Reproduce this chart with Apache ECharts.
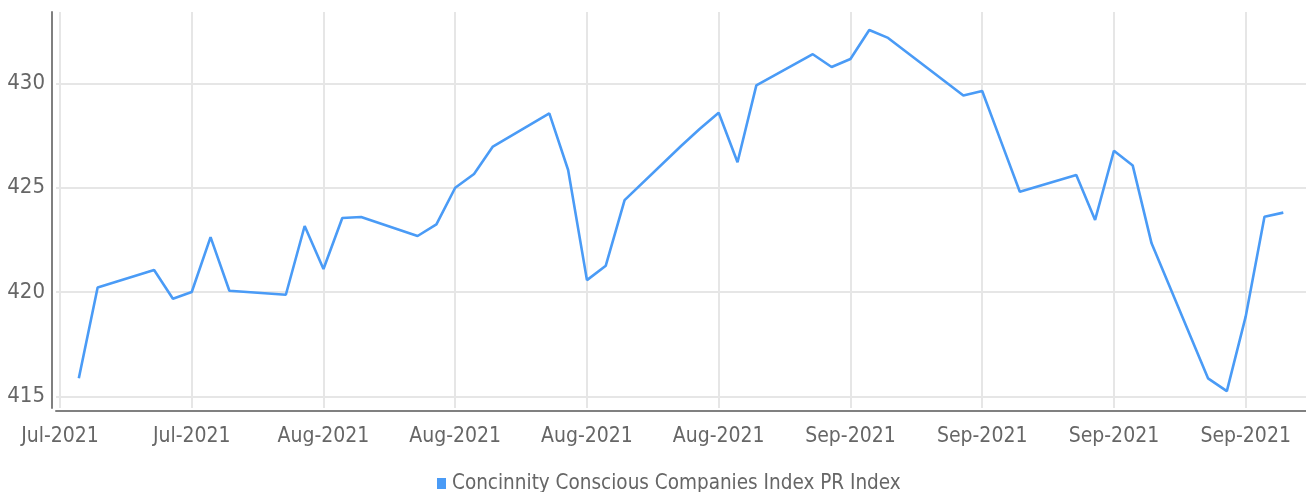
<!DOCTYPE html>
<html>
<head>
<meta charset="utf-8">
<style>
  html, body { margin: 0; padding: 0; background: #fff; }
  #chart { width: 1306px; height: 492px; }
</style>
<script src="https://cdn.jsdelivr.net/npm/echarts@6/dist/echarts.min.js"></script>
</head>
<body>
<div id="chart"></div>
<script>
// Daily closes of the index (trading days only)
const dates = [
  '2021-07-22','2021-07-23','2021-07-26','2021-07-27','2021-07-28','2021-07-29','2021-07-30',
  '2021-08-02','2021-08-03','2021-08-04','2021-08-05','2021-08-06',
  '2021-08-09','2021-08-10','2021-08-11','2021-08-12','2021-08-13',
  '2021-08-16','2021-08-17','2021-08-18','2021-08-19','2021-08-20',
  '2021-08-23','2021-08-24','2021-08-25','2021-08-26','2021-08-27',
  '2021-08-30','2021-08-31','2021-09-01','2021-09-02','2021-09-03',
  '2021-09-07','2021-09-08','2021-09-09','2021-09-10',
  '2021-09-13','2021-09-14','2021-09-15','2021-09-16','2021-09-17',
  '2021-09-20','2021-09-21','2021-09-22','2021-09-23','2021-09-24'
];
const values = [
  415.88, 420.23, 421.06, 419.69, 420.01, 422.64, 420.07,
  419.88, 423.17, 421.11, 423.55, 423.60,
  422.69, 423.25, 425.00, 425.66, 426.97,
  428.56, 425.85, 420.58, 421.27, 424.41,
  427.00, 427.82, 428.59, 426.22, 429.90,
  431.39, 430.78, 431.16, 432.55, 432.17,
  429.41, 429.63, 427.22, 424.81,
  425.61, 423.46, 426.77, 426.06, 422.34,
  415.88, 415.27, 418.83, 423.61, 423.81
];
const seriesName = 'Concinnity Conscious Companies Index PR Index';
const monthNames = ['Jan','Feb','Mar','Apr','May','Jun','Jul','Aug','Sep','Oct','Nov','Dec'];

// Weekly gridlines fall on Wednesdays; x is measured in days from the first one.
const DAY = 86400000;
const origin = Date.UTC(2021, 6, 21);
const toDay = s => {
  const [y, m, d] = s.split('-').map(Number);
  return (Date.UTC(y, m - 1, d) - origin) / DAY;
};
const points = dates.map((d, i) => [toDay(d), values[i]]);
const fmtDate = v => {
  const dt = new Date(origin + Math.round(v) * DAY);
  return monthNames[dt.getUTCMonth()] + '-' + dt.getUTCFullYear();
};

const FONT = "'DejaVu Sans Condensed', 'DejaVu Sans', sans-serif";
const gridLine = { show: true, showMinLine: false, showMaxLine: false, lineStyle: { color: '#e6e6e6', width: 2 } };

const chart = echarts.init(document.getElementById('chart'), null, { renderer: 'canvas' });
chart.setOption({
  animation: false,
  backgroundColor: '#ffffff',
  textStyle: { fontFamily: FONT },
  grid: { left: 56, right: 0, top: 12, bottom: 84, containLabel: false, outerBoundsMode: 'none' },
  legend: {
    bottom: -7,
    left: 432,
    icon: 'rect',
    itemWidth: 9,
    itemHeight: 11,
    itemGap: 10,
    textStyle: { color: '#666666', fontSize: 20.5, fontFamily: FONT, padding: [0, 0, 0, 1] },
    data: [seriesName]
  },
  xAxis: {
    type: 'value',
    min: -0.2125,
    max: 66.206,
    minInterval: 7,
    maxInterval: 7,
    offset: 3,
    axisLine: { show: true, onZero: false, lineStyle: { color: '#808080', width: 2 } },
    axisTick: { show: false },
    axisLabel: {
      showMinLabel: false,
      showMaxLabel: false,
      color: '#666666',
      fontSize: 21,
      fontFamily: FONT,
      margin: 15,
      formatter: fmtDate
    },
    splitLine: gridLine
  },
  yAxis: {
    type: 'value',
    min: 414.46,
    max: 433.41,
    splitNumber: 4,
    minInterval: 5,
    maxInterval: 5,
    offset: 4,
    axisLine: { show: true, onZero: false, lineStyle: { color: '#808080', width: 2 } },
    axisTick: { show: false },
    axisLabel: {
      showMinLabel: false,
      showMaxLabel: false,
      color: '#666666',
      fontSize: 22,
      fontFamily: FONT,
      margin: 7,
      padding: [9, 0, 0, 0]
    },
    splitLine: gridLine
  },
  series: [{
    name: seriesName,
    type: 'line',
    data: points,
    showSymbol: false,
    symbol: 'none',
    color: '#4a9bf6',
    lineStyle: { color: '#4a9bf6', width: 2.6 }
  }]
});
</script>
</body>
</html>
